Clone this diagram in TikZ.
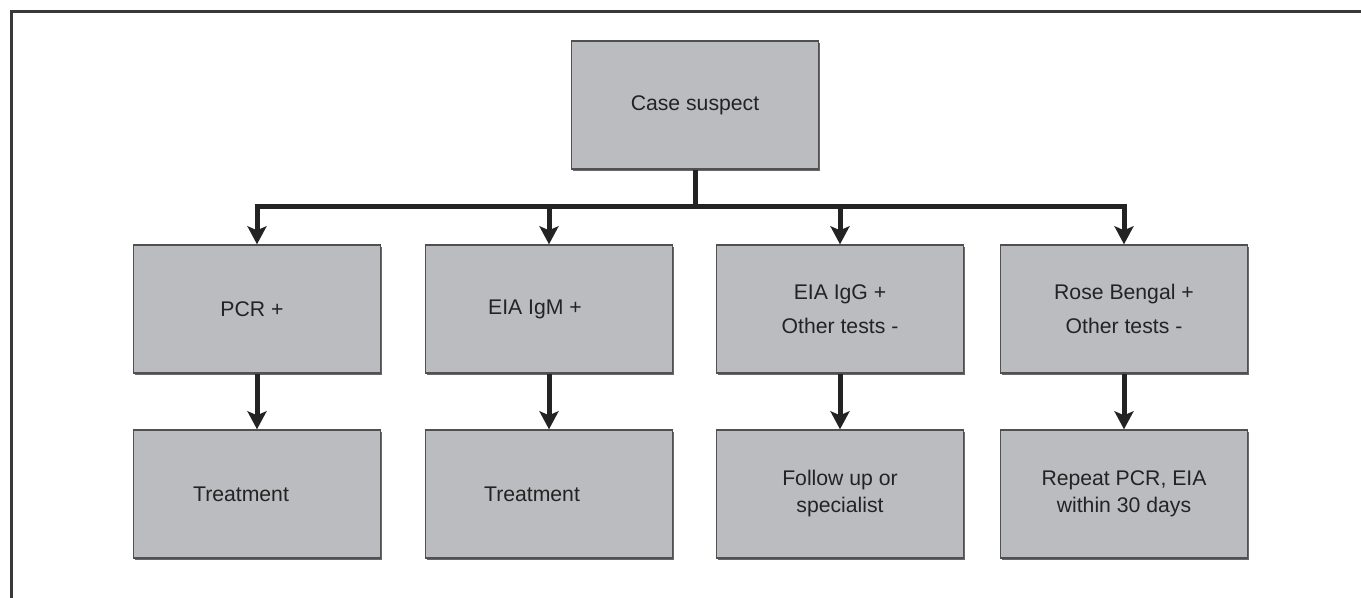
\documentclass[tikz,border=0pt]{standalone}
\usepackage{fontspec}
\setmainfont{Liberation Sans}
\usepackage{xcolor}
\usepackage{tikz}
\usetikzlibrary{arrows.meta,calc,positioning,shadows}
\definecolor{ink}{RGB}{35,35,35}
\definecolor{boxfill}{RGB}{187,188,192}
\definecolor{boxstroke}{RGB}{80,80,82}
\definecolor{shade}{RGB}{105,105,108}
\tikzset{
  stage/.style={
    draw=boxstroke, fill=boxfill, line width=0.7pt,
    minimum width=123.5pt, minimum height=64pt,
    align=center, font=\fontsize{10.6}{17}\selectfont, text=ink, inner sep=0pt,
    drop shadow={shadow xshift=0.8pt, shadow yshift=-0.8pt, fill=shade, opacity=1},
  },
  result/.style={
    stage, font=\fontsize{10.6}{13.5}\selectfont,
  },
  nudge/.style={execute at end node={\hspace*{#1}}},
  bus/.style={line width=2.5pt, draw=ink},
  arr/.style={-{Stealth[length=9pt, width=9.5pt, inset=2pt]}, line width=2.5pt, draw=ink},
  frame/.style={line width=1.5pt, draw=ink!90},
}

\begin{document}
\begin{tikzpicture}[x=0.5pt,y=-0.5pt]
  \useasboundingbox (0,0) rectangle (1361,598);

  % Outer frame (left and top only visible)
  \draw[frame] (11,598) -- (11,12) -- (1361,12);

  % Root node
  \node[stage] (case) at (695,105) {Case suspect};
  \coordinate (split) at (695,207);

  % First row: test results
  \node[stage, nudge=5pt] (pcr) at (257,309) {PCR +};
  \node[stage, nudge=14pt] (igm) at (549,309) {EIA IgM +};
  \node[stage] (igg) at (840,309) {EIA IgG +\\Other tests -};
  \node[stage] (rose) at (1124,309) {Rose Bengal +\\Other tests -};

  % Second row: actions
  \node[result, nudge=16pt] (treatA) at (257,494) {Treatment};
  \node[result, nudge=17pt] (treatB) at (549,494) {Treatment};
  \node[result] (follow) at (840,494) {Follow up or\\specialist};
  \node[result] (repeat) at (1124,494) {Repeat PCR, EIA\\within 30 days};

  % Split from the root
  \draw[bus] (case.south) -- (split);
  \draw[bus, line cap=rect] (split -| pcr.north) -- (split -| rose.north);
  \foreach \n in {pcr,igm,igg,rose}
    \draw[arr] (split -| \n.north) -- (\n.north);

  % Results to actions
  \draw[arr] (pcr) -- (treatA);
  \draw[arr] (igm) -- (treatB);
  \draw[arr] (igg) -- (follow);
  \draw[arr] (rose) -- (repeat);
\end{tikzpicture}
\end{document}
